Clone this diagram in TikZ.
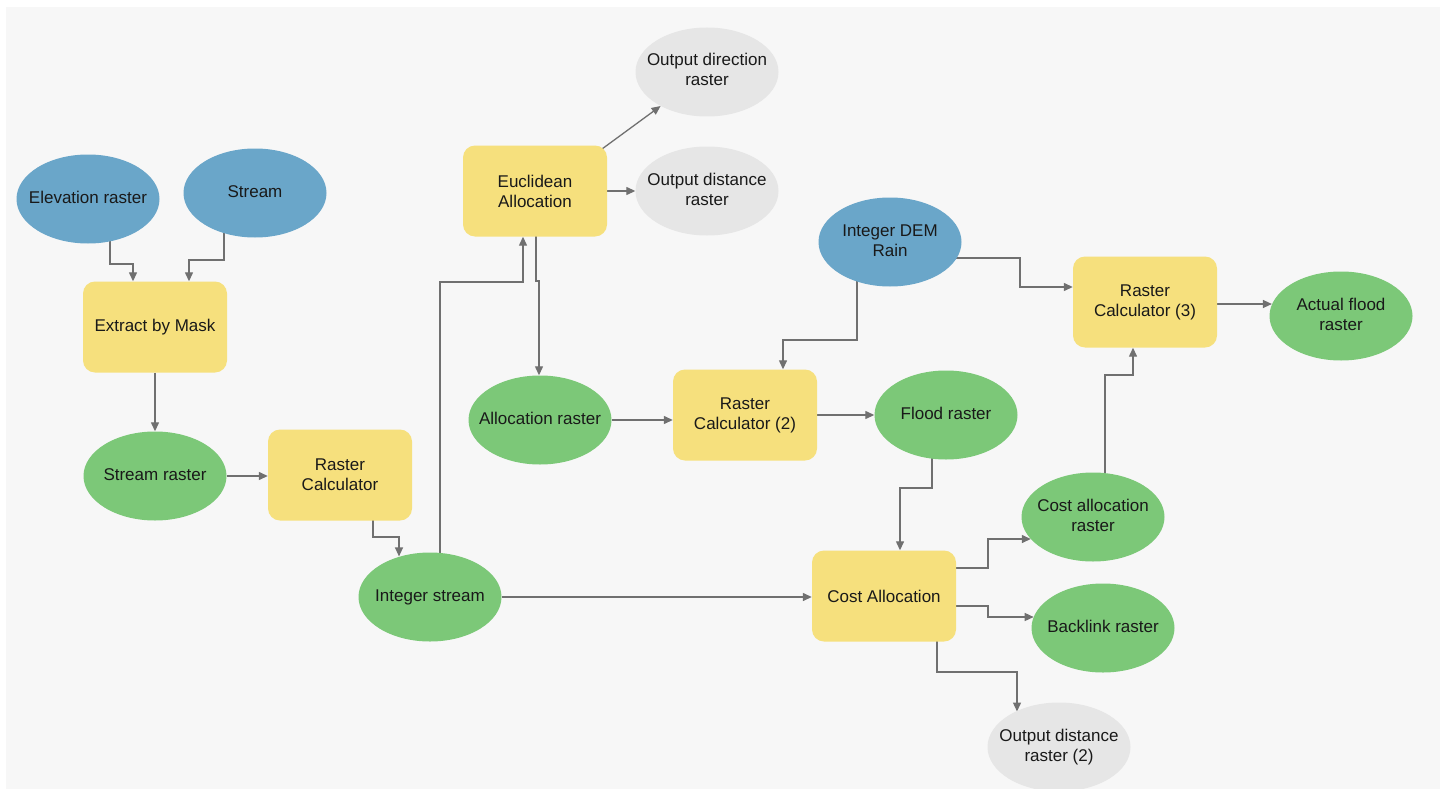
\documentclass[tikz,border=0pt]{standalone}
\usepackage{fontspec}
\setmainfont{Liberation Sans}
\usetikzlibrary{arrows.meta,shapes.geometric}
\definecolor{panel}{RGB}{247,247,247}
\definecolor{inblue}{RGB}{106,166,201}
\definecolor{toolyel}{RGB}{246,224,125}
\definecolor{outgreen}{RGB}{124,200,120}
\definecolor{outgray}{RGB}{230,230,230}
\definecolor{linegray}{RGB}{112,112,112}
\definecolor{txt}{RGB}{25,25,25}
\newcommand{\ctxt}[1]{\hbox to 0pt{\hss\begin{tabular}{@{}c@{}}#1\end{tabular}\hss}}
\pgfdeclarelayer{panellayer}
\pgfdeclarelayer{edgelayer}
\pgfsetlayers{panellayer,edgelayer,main}
\tikzset{
  base/.style={inner sep=0pt, align=center, text=txt, font=\fontsize{17}{20}\selectfont},
  ell/.style={base, ellipse, minimum width=143pt, minimum height=89pt},
  inp/.style={ell, fill=inblue},
  outg/.style={ell, fill=outgreen},
  outy/.style={ell, fill=outgray},
  tool/.style={base, rectangle, rounded corners=12pt, fill=toolyel, minimum width=144pt, minimum height=91pt},
  arr/.style={draw=linegray, line width=1.3pt, -{Triangle[length=9pt,width=8pt]}, fill=none}
}
\begin{document}
\begin{tikzpicture}[x=1pt,y=-1pt]
\useasboundingbox (0,0) rectangle (1447,789);
\begin{pgfonlayer}{panellayer}
\fill[white] (0,0) rectangle (1447,789);
\fill[panel] (6,7) rectangle (1440,789);
\end{pgfonlayer}
% nodes
\node[inp]  (elev)   at (88,199)   {\ctxt{Elevation raster}};
\node[inp]  (stream) at (255,193)  {\ctxt{Stream}};
\node[tool] (ext)    at (155,327)  {Extract by Mask};
\node[outg] (sras)   at (155,476)  {\ctxt{Stream raster}};
\node[tool] (rca)    at (340,475)  {Raster\\Calculator};
\node[outg] (istr)   at (430,597)  {\ctxt{Integer stream}};
\node[tool] (euc)    at (535,191)  {Euclidean\\Allocation};
\node[outy] (odir)   at (707,72)   {\ctxt{Output direction\\raster}};
\node[outy] (odist)  at (707,191)  {\ctxt{Output distance\\raster}};
\node[outg] (alloc)  at (540,420)  {\ctxt{Allocation raster}};
\node[tool] (rcb)    at (745,415)  {Raster\\Calculator (2)};
\node[outg] (flood)  at (946,415)  {\ctxt{Flood raster}};
\node[inp]  (dem)    at (890,242)  {\ctxt{Integer DEM\\Rain}};
\node[tool] (rcc)    at (1145,302) {Raster\\Calculator (3)};
\node[outg] (actual) at (1341,316) {\ctxt{Actual flood\\raster}};
\node[tool] (cost)   at (884,596)  {Cost Allocation};
\node[outg] (costr)  at (1093,517) {\ctxt{Cost allocation\\raster}};
\node[outg] (back)   at (1103,628) {\ctxt{Backlink raster}};
\node[outy] (odisttwo) at (1059,747) {\ctxt{Output distance\\raster (2)}};
% connectors
\begin{pgfonlayer}{edgelayer}
\draw[arr] ([xshift=22pt]elev.center) |- (133,264) -- ([xshift=-22pt]ext.north);
\draw[arr] ([xshift=-31pt]stream.center) |- (189,260) -- ([xshift=34pt]ext.north);
\draw[arr] (ext.south) -- (sras.north);
\draw[arr] (sras.east) -- (sras.east -| rca.west);
\draw[arr] ([xshift=33pt]rca.center) |- (399,537) -- ([xshift=-31pt,yshift=40.6pt]istr.center);
\draw[arr] ([xshift=10pt]istr.center) |- (523,282) -- ([xshift=-12pt]euc.south);
\draw[arr] ([xshift=-7pt,yshift=-5pt]euc.north east) -- (odir);
\draw[arr] (euc.east) -- (odist.west);
\draw[arr] ([xshift=1pt]euc.center) |- (539,281) -- ([xshift=-1pt]alloc.north);
\draw[arr] (alloc.east) -- (alloc.east -| rcb.west);
\draw[arr] (rcb.east) -- (flood.west);
\draw[arr] ([xshift=-33pt]dem.center) |- (783,340) -- ([xshift=38pt]rcb.north);
\draw[arr] ([yshift=-16pt]dem.center) -| (1020,287) -- ([yshift=15pt]rcc.west);
\draw[arr] ([yshift=-2pt]rcc.center) -- ([xshift=2.6pt,yshift=12pt]actual.west);
\draw[arr] ([xshift=12pt]costr.center) |- (1133,375) -- ([xshift=-12pt]rcc.south);
\draw[arr] ([xshift=-14pt]flood.center) |- (900,488) -- ([xshift=16pt]cost.north);
\draw[arr] (istr.east) -- (istr.east -| cost.west);
\draw[arr] ([yshift=28pt]cost.center) -- (988,568) |- ([xshift=-62.2pt,yshift=-22pt]costr.center);
\draw[arr] ([yshift=-10pt]cost.center) -- (988,606) |- ([xshift=-69.3pt,yshift=11pt]back.center);
\draw[arr] ([xshift=53pt]cost.center) |- (1017,672) -- ([xshift=-42pt,yshift=35.5pt]odisttwo.center);
\end{pgfonlayer}
\end{tikzpicture}
\end{document}
